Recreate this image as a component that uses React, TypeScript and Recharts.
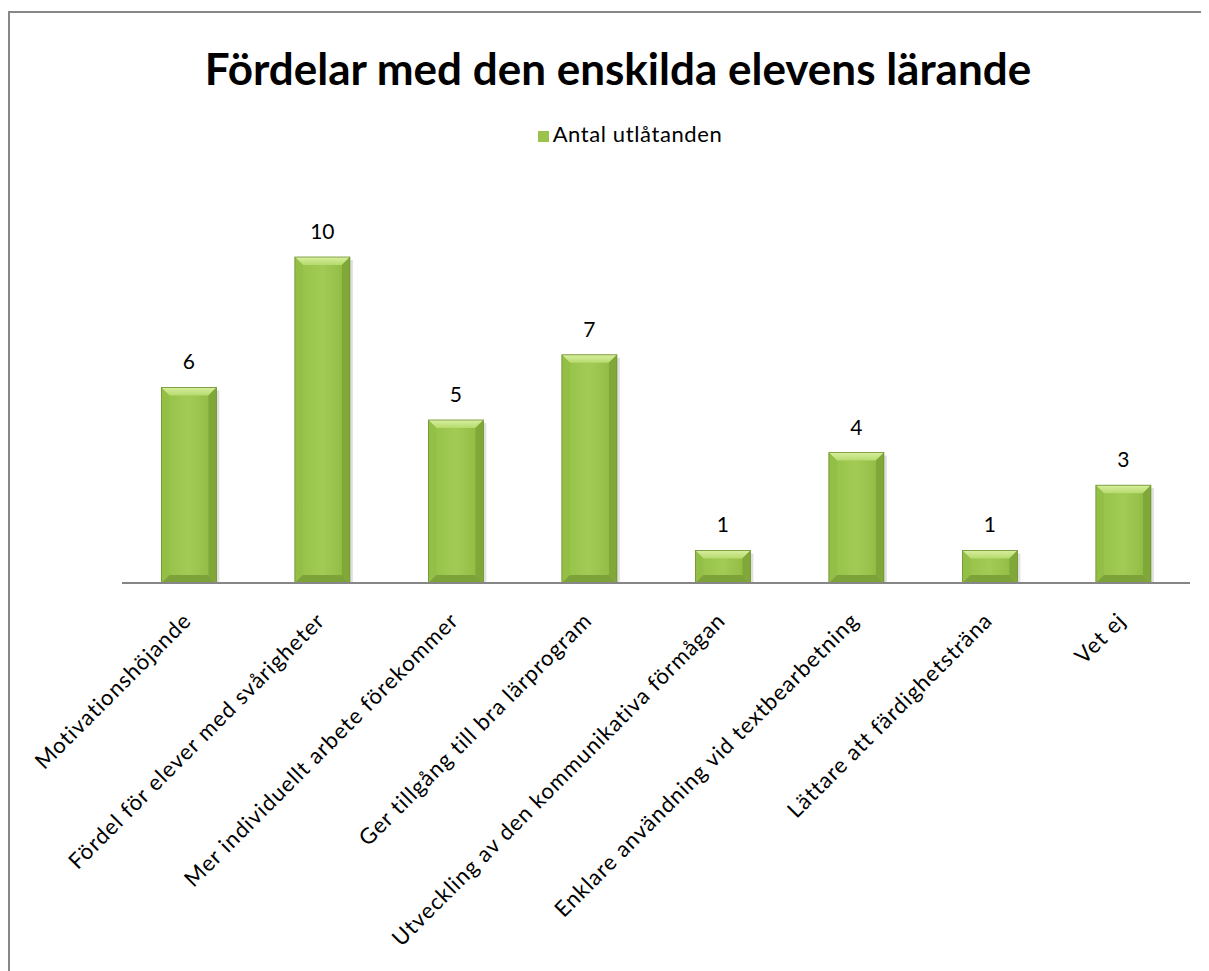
import React from "react";
import { BarChart, Bar, XAxis, YAxis, Legend, LabelList } from "recharts";

const categories = [
  "Motivationshöjande",
  "Fördel för elever med svårigheter",
  "Mer individuellt arbete förekommer",
  "Ger tillgång till bra lärprogram",
  "Utveckling av den kommunikativa förmågan",
  "Enklare användning vid textbearbetning",
  "Lättare att färdighetsträna",
  "Vet ej",
];
const counts = [6, 10, 5, 7, 1, 4, 1, 3];
const seriesName = "Antal utlåtanden";

const data = categories.map((name, i) => ({ name, value: counts[i] }));

const FONT = "Lato, 'Open Sans', sans-serif";

const BevelBar = (props: any) => {
  const { x, y, width, height, index } = props;
  if (!height || height <= 0) return null;
  const b = Math.min(8, height / 2.5, width / 4);
  const gb = `barBody${index}`;
  const gt = `barTop${index}`;
  return (
    <g>
      <defs>
        <linearGradient id={gb} x1="0" y1="0" x2="1" y2="0">
          <stop offset="0%" stopColor="#98c44b" />
          <stop offset="50%" stopColor="#a2cb55" />
          <stop offset="100%" stopColor="#93be46" />
        </linearGradient>
        <linearGradient id={gt} x1="0" y1="0" x2="0" y2="1">
          <stop offset="0%" stopColor="#d8ef9e" />
          <stop offset="100%" stopColor="#b6da6e" />
        </linearGradient>
      </defs>
      <rect x={x + 3} y={y + 3} width={width} height={height - 3} fill="rgba(0,0,0,0.12)" />
      <rect x={x} y={y} width={width} height={height} fill="#9bc54d" />
      <rect x={x + b} y={y + b} width={width - 2 * b} height={height - 2 * b} fill={`url(#${gb})`} />
      <polygon
        points={`${x},${y} ${x + width},${y} ${x + width - b},${y + b} ${x + b},${y + b}`}
        fill={`url(#${gt})`}
      />
      <polygon
        points={`${x},${y} ${x + b},${y + b} ${x + b},${y + height - b} ${x},${y + height}`}
        fill="#93bf46"
      />
      <polygon
        points={`${x + width},${y} ${x + width - b},${y + b} ${x + width - b},${y + height - b} ${x + width},${y + height}`}
        fill="#7fa838"
      />
      <polygon
        points={`${x},${y + height} ${x + b},${y + height - b} ${x + width - b},${y + height - b} ${x + width},${y + height}`}
        fill="#7ea23a"
      />
      <rect x={x} y={y} width={width} height={height} fill="none" stroke="#6f8f2e" strokeWidth={0.8} />
    </g>
  );
};

const RotTick = (props: any) => {
  const { x, y, payload } = props;
  const ax = x + 4;
  const ay = y + 31;
  return (
    <text
      x={ax}
      y={ay}
      transform={`rotate(-45, ${ax}, ${ay})`}
      textAnchor="end"
      fontSize={22}
      letterSpacing={1}
      fontFamily={FONT}
      fill="#000"
    >
      {payload.value}
    </text>
  );
};

export default function App() {
  return (
    <div
      style={{
        position: "relative",
        marginTop: 3,
        width: 1216,
        height: 975,
        border: "2px solid #878787",
        background: "#fff",
        fontFamily: FONT,
      }}
    >
      <div
        style={{
          position: "absolute",
          top: 29,
          left: 0,
          width: 1216,
          textAlign: "center",
          fontSize: 44,
          fontWeight: 700,
          color: "#000",
          fontFamily: FONT,
        }}
      >
        Fördelar med den enskilda elevens lärande
      </div>
      <BarChart
        width={1216}
        height={975}
        data={data}
        margin={{ top: 217, right: 36, left: 112, bottom: 25 }}
        barCategoryGap="29.5%"
      >
        <XAxis
          dataKey="name"
          interval={0}
          tickLine={false}
          axisLine={{ stroke: "#868686", strokeWidth: 2 }}
          height={380}
          tick={<RotTick />}
        />
        <YAxis hide domain={[0, 10]} />
        <Legend
          verticalAlign="top"
          align="center"
          iconType="square"
          iconSize={11}
          wrapperStyle={{ top: 107, left: 0, width: 1250, fontSize: 22, letterSpacing: 0.6, fontFamily: FONT }}
          formatter={(v: string) => <span style={{ color: "#000" }}>{v}</span>}
        />
        <Bar dataKey="value" name={seriesName} fill="#9bc24c" shape={<BevelBar />} isAnimationActive={false}>
          <LabelList dataKey="value" position="top" offset={18} fontSize={21} fill="#000" fontFamily={FONT} />
        </Bar>
      </BarChart>
    </div>
  );
}
